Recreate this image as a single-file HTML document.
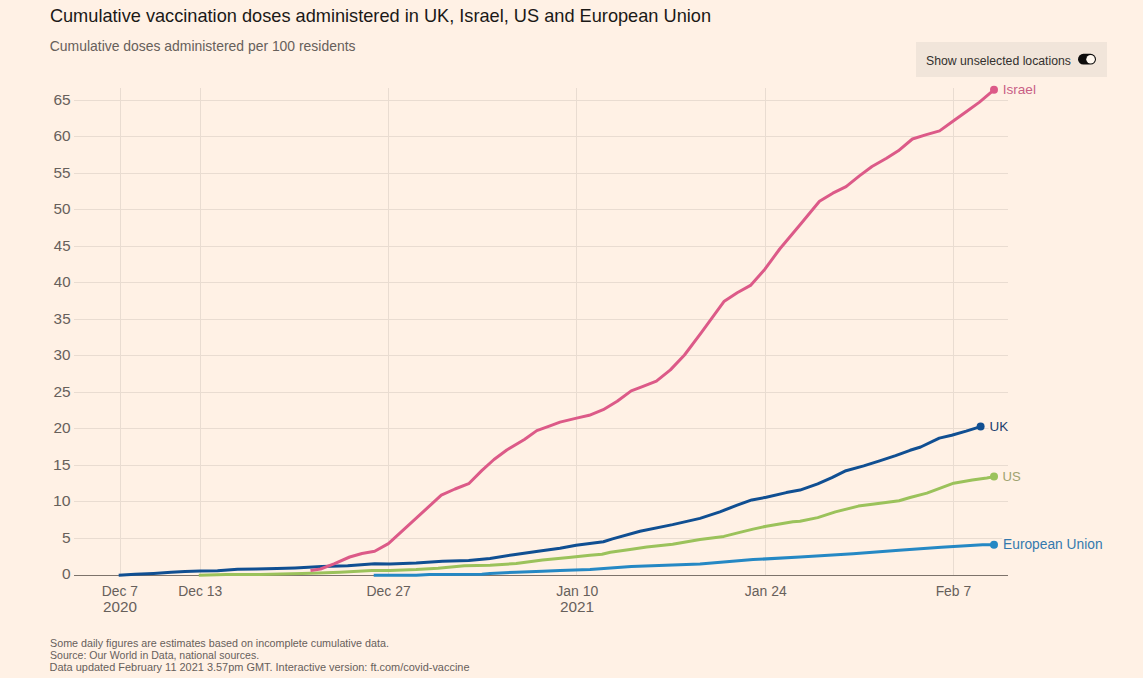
<!DOCTYPE html>
<html><head><meta charset="utf-8"><style>
html,body{margin:0;padding:0;background:#fff1e5;width:1143px;height:678px;overflow:hidden}
svg{display:block}
text{font-family:"Liberation Sans",sans-serif}
</style></head><body>
<svg width="1143" height="678" viewBox="0 0 1143 678">
<rect width="1143" height="678" fill="#fff1e5"/>

<text x="49.89" y="21.7" font-size="18.2" fill="#1b1917">Cumulative vaccination doses administered in UK, Israel, US and European Union</text>
<text x="49.8" y="50.6" font-size="13.93" fill="#67605b">Cumulative doses administered per 100 residents</text>
<rect x="916" y="42" width="191" height="35" fill="#f1e5da"/>
<text x="926.05" y="65.1" font-size="12.24" fill="#33302e">Show unselected locations</text>
<rect x="1078" y="53.8" width="18" height="10.8" rx="5.4" fill="#0d0c0c"/><circle cx="1090.6" cy="59.2" r="4.3" fill="#fff8f0"/>
<line x1="74" y1="538.50" x2="1008" y2="538.50" stroke="#e9dcd1" stroke-width="1"/>
<line x1="74" y1="501.50" x2="1008" y2="501.50" stroke="#e9dcd1" stroke-width="1"/>
<line x1="74" y1="465.50" x2="1008" y2="465.50" stroke="#e9dcd1" stroke-width="1"/>
<line x1="74" y1="428.50" x2="1008" y2="428.50" stroke="#e9dcd1" stroke-width="1"/>
<line x1="74" y1="392.50" x2="1008" y2="392.50" stroke="#e9dcd1" stroke-width="1"/>
<line x1="74" y1="355.50" x2="1008" y2="355.50" stroke="#e9dcd1" stroke-width="1"/>
<line x1="74" y1="319.50" x2="1008" y2="319.50" stroke="#e9dcd1" stroke-width="1"/>
<line x1="74" y1="282.50" x2="1008" y2="282.50" stroke="#e9dcd1" stroke-width="1"/>
<line x1="74" y1="246.50" x2="1008" y2="246.50" stroke="#e9dcd1" stroke-width="1"/>
<line x1="74" y1="209.50" x2="1008" y2="209.50" stroke="#e9dcd1" stroke-width="1"/>
<line x1="74" y1="173.50" x2="1008" y2="173.50" stroke="#e9dcd1" stroke-width="1"/>
<line x1="74" y1="136.50" x2="1008" y2="136.50" stroke="#e9dcd1" stroke-width="1"/>
<line x1="74" y1="100.50" x2="1008" y2="100.50" stroke="#e9dcd1" stroke-width="1"/>
<line x1="120.5" y1="88" x2="120.5" y2="575" stroke="#e9dcd1" stroke-width="1"/>
<line x1="200.5" y1="88" x2="200.5" y2="575" stroke="#e9dcd1" stroke-width="1"/>
<line x1="388.5" y1="88" x2="388.5" y2="575" stroke="#e9dcd1" stroke-width="1"/>
<line x1="576.5" y1="88" x2="576.5" y2="575" stroke="#e9dcd1" stroke-width="1"/>
<line x1="765.5" y1="88" x2="765.5" y2="575" stroke="#e9dcd1" stroke-width="1"/>
<line x1="953.5" y1="88" x2="953.5" y2="575" stroke="#e9dcd1" stroke-width="1"/>
<line x1="74" y1="575.5" x2="1008" y2="575.5" stroke="#7d736b" stroke-width="1"/>
<text x="61.98" y="579.1" font-size="13.8" textLength="8.62" lengthAdjust="spacingAndGlyphs" fill="#67605b">0</text>
<text x="61.98" y="543.0" font-size="13.8" textLength="8.66" lengthAdjust="spacingAndGlyphs" fill="#67605b">5</text>
<text x="53.01" y="506.4" font-size="13.8" textLength="17.62" lengthAdjust="spacingAndGlyphs" fill="#67605b">10</text>
<text x="53.01" y="469.9" font-size="13.8" textLength="17.66" lengthAdjust="spacingAndGlyphs" fill="#67605b">15</text>
<text x="53.43" y="433.3" font-size="13.8" textLength="17.19" lengthAdjust="spacingAndGlyphs" fill="#67605b">20</text>
<text x="53.43" y="396.8" font-size="13.8" textLength="17.23" lengthAdjust="spacingAndGlyphs" fill="#67605b">25</text>
<text x="53.63" y="360.3" font-size="13.8" textLength="16.98" lengthAdjust="spacingAndGlyphs" fill="#67605b">30</text>
<text x="53.63" y="323.7" font-size="13.8" textLength="17.02" lengthAdjust="spacingAndGlyphs" fill="#67605b">35</text>
<text x="53.86" y="287.2" font-size="13.8" textLength="16.74" lengthAdjust="spacingAndGlyphs" fill="#67605b">40</text>
<text x="53.86" y="250.7" font-size="13.8" textLength="16.78" lengthAdjust="spacingAndGlyphs" fill="#67605b">45</text>
<text x="53.59" y="214.1" font-size="13.8" textLength="17.02" lengthAdjust="spacingAndGlyphs" fill="#67605b">50</text>
<text x="53.59" y="177.6" font-size="13.8" textLength="17.06" lengthAdjust="spacingAndGlyphs" fill="#67605b">55</text>
<text x="53.43" y="141.0" font-size="13.8" textLength="17.19" lengthAdjust="spacingAndGlyphs" fill="#67605b">60</text>
<text x="53.43" y="104.5" font-size="13.8" textLength="17.23" lengthAdjust="spacingAndGlyphs" fill="#67605b">65</text>
<text x="101.76" y="595.8" font-size="13.84" fill="#67605b">Dec 7</text>
<text x="178.25" y="595.8" font-size="13.9" fill="#67605b">Dec 13</text>
<text x="366.55" y="595.8" font-size="13.94" fill="#67605b">Dec 27</text>
<text x="556.29" y="595.8" font-size="14.0" fill="#67605b">Jan 10</text>
<text x="744.79" y="595.8" font-size="13.95" fill="#67605b">Jan 24</text>
<text x="935.66" y="595.8" font-size="13.87" fill="#67605b">Feb 7</text>
<text x="102.94" y="611.7" font-size="14" textLength="33.97" lengthAdjust="spacingAndGlyphs" fill="#67605b">2020</text>
<text x="559.93" y="611.7" font-size="14" textLength="34.13" lengthAdjust="spacingAndGlyphs" fill="#67605b">2021</text>
<path d="M373.7,575.2 L416.2,575.2 L429.4,574.4 L481.9,574.2 L490.0,573.4 L516.2,572.2 L542.5,571.2 L560.0,570.5 L590.0,569.4 L631.3,566.4 L672.6,564.9 L700.0,563.9 L753.1,559.6 L800.0,557.1 L853.1,553.8 L899.1,550.3 L941.3,547.2 L982.6,544.7 L994.0,544.7" fill="none" stroke="#2588c4" stroke-width="3" stroke-linejoin="round" stroke-linecap="butt"/>
<path d="M198.8,575.2 L226.0,574.6 L260.0,574.5 L302.0,573.6 L318.9,572.9 L340.0,572.2 L371.8,570.5 L390.0,570.4 L416.2,569.6 L438.1,568.3 L464.4,565.7 L490.0,565.2 L516.2,563.5 L542.5,560.0 L568.7,557.4 L590.0,555.3 L602.0,554.3 L610.4,552.2 L630.0,549.4 L646.8,547.1 L672.6,544.2 L700.0,539.4 L723.9,536.4 L739.8,532.4 L753.1,529.1 L766.3,526.2 L792.9,521.8 L800.0,521.3 L817.7,517.6 L835.4,511.9 L858.4,506.1 L874.3,503.9 L899.1,500.8 L910.1,497.5 L926.9,493.1 L953.7,483.2 L972.3,480.1 L986.8,478.0 L994.0,476.6" fill="none" stroke="#9bc25b" stroke-width="3" stroke-linejoin="round" stroke-linecap="butt"/>
<path d="M118.7,575.2 L135.0,574.3 L153.7,573.4 L171.2,572.2 L185.0,571.5 L200.0,571.1 L217.5,570.8 L237.6,569.3 L256.0,569.1 L277.0,568.5 L295.0,567.9 L321.8,566.6 L347.7,565.7 L374.7,563.8 L390.0,563.9 L416.2,563.1 L442.5,561.3 L468.7,560.4 L490.0,558.4 L513.6,554.7 L538.1,551.2 L560.0,548.3 L576.1,545.2 L603.4,541.7 L612.5,538.9 L640.0,531.2 L672.6,524.6 L700.0,518.4 L719.9,511.8 L737.2,505.2 L751.8,499.9 L766.3,497.3 L786.3,492.6 L800.0,490.1 L817.7,483.9 L831.9,477.7 L846.0,470.7 L863.7,465.9 L879.6,460.9 L895.6,455.6 L910.1,450.3 L920.7,447.0 L939.3,438.1 L951.7,435.2 L966.1,431.1 L980.6,426.6" fill="none" stroke="#104f92" stroke-width="3" stroke-linejoin="round" stroke-linecap="butt"/>
<path d="M310.5,570.6 L320.5,569.0 L334.0,563.8 L349.7,557.0 L362.0,553.5 L374.7,551.3 L388.4,543.6 L441.3,495.2 L455.0,489.0 L468.7,483.7 L482.0,470.4 L494.0,459.5 L506.8,450.0 L524.4,439.5 L536.8,430.6 L550.0,425.9 L560.0,422.1 L576.6,418.1 L589.2,415.3 L603.2,409.7 L617.2,401.3 L631.2,390.9 L642.4,386.7 L656.4,381.1 L670.4,369.9 L684.5,355.0 L701.3,332.6 L723.9,301.6 L737.2,292.8 L750.5,285.4 L765.1,268.9 L779.7,249.0 L800.9,223.7 L819.5,201.2 L832.8,193.2 L846.1,186.6 L859.4,175.9 L872.0,166.5 L886.5,158.2 L898.3,150.8 L912.4,139.0 L926.4,134.6 L939.6,130.9 L952.9,121.3 L966.2,111.7 L979.5,102.1 L989.8,93.3 L994.0,89.8" fill="none" stroke="#dc5a88" stroke-width="3" stroke-linejoin="round" stroke-linecap="butt"/>
<circle cx="994" cy="89.8" r="4" fill="#dc5a88"/><text x="1002.64" y="93.7" font-size="13.65" fill="#c95f86" stroke="#fff1e5" stroke-width="4" stroke-linejoin="round" paint-order="stroke">Israel</text>
<circle cx="980.6" cy="426.4" r="4" fill="#104f92"/><text x="989.46" y="430.7" font-size="13.46" fill="#22406e" stroke="#fff1e5" stroke-width="4" stroke-linejoin="round" paint-order="stroke">UK</text>
<circle cx="994" cy="476.5" r="4" fill="#9bc25b"/><text x="1002.59" y="480.7" font-size="13.1" fill="#9ea26e" stroke="#fff1e5" stroke-width="4" stroke-linejoin="round" paint-order="stroke">US</text>
<circle cx="994" cy="544.7" r="4" fill="#2588c4"/><text x="1003.06" y="548.9" font-size="13.78" fill="#3479ae" stroke="#fff1e5" stroke-width="4" stroke-linejoin="round" paint-order="stroke">European Union</text>
<text x="50.02" y="646.5" font-size="10.74" fill="#67605b">Some daily figures are estimates based on incomplete cumulative data.</text>
<text x="50.02" y="658.7" font-size="10.56" fill="#67605b">Source: Our World in Data, national sources.</text>
<text x="49.6" y="671.2" font-size="10.94" fill="#67605b">Data updated February 11 2021 3.57pm GMT. Interactive version: ft.com/covid-vaccine</text>
</svg></body></html>
